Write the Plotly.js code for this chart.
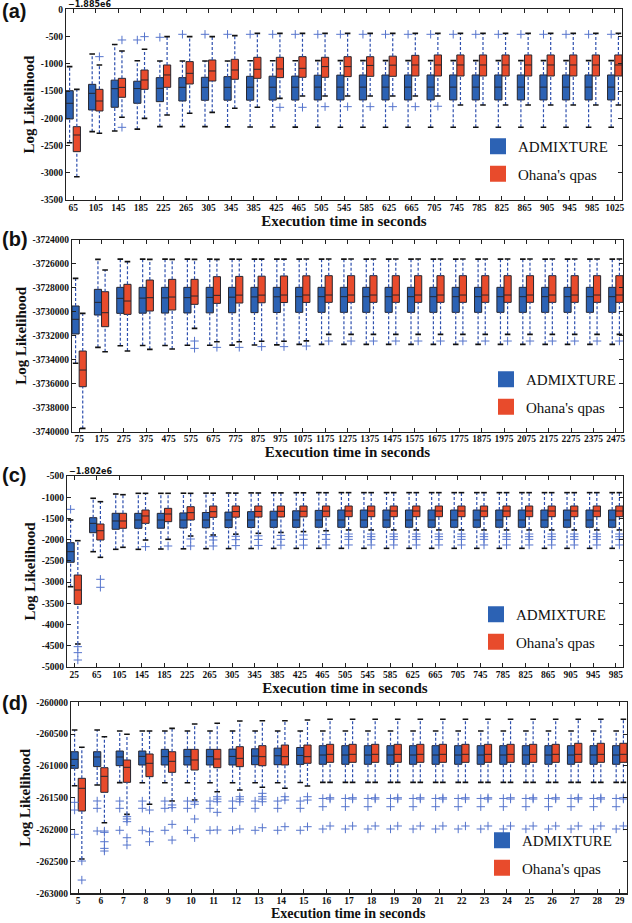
<!DOCTYPE html>
<html><head><meta charset="utf-8">
<script src="https://cdn.plot.ly/plotly-3.0.1.min.js"></script>
<style>html,body{margin:0;padding:0;background:#fff}#chart{width:632px;height:923px}</style>
</head><body><div id="chart"></div>
<script>
// ================= DATA =================
// Panel (a): execution time categories (seconds), values offset by -1.885e6
const timesA = [65,105,145,185,225,265,305,345,385,425,465,505,545,585,625,665,705,745,785,825,865,905,945,985,1025];
const yTicksA = [0,-500,-1000,-1500,-2000,-2500,-3000,-3500];
const admA_q3  = [-1494,-1377,-1300,-1320,-1254,-1254,-1248,-1236,-1230,-1228,-1226,-1210,-1208,-1206,-1206,-1205,-1205,-1205,-1205,-1205,-1205,-1205,-1205,-1205,-1205];
const admA_med = [-1725,-1542,-1457,-1455,-1450,-1432,-1432,-1432,-1430,-1430,-1430,-1428,-1428,-1428,-1428,-1428,-1428,-1428,-1428,-1428,-1428,-1428,-1428,-1428,-1428];
const admA_q1  = [-2013,-1848,-1798,-1725,-1695,-1683,-1670,-1668,-1668,-1666,-1666,-1664,-1664,-1664,-1664,-1664,-1664,-1664,-1664,-1664,-1664,-1664,-1664,-1664,-1664];
const admA_hi  = [-1053,-820,-645,-943,-948,-948,-948,-948,-945,-945,-945,-942,-942,-942,-942,-942,-942,-942,-942,-942,-942,-942,-942,-942,-942];
const admA_lo  = [-2450,-2246,-2233,-2200,-2154,-2154,-2154,-2158,-2160,-2160,-2162,-2166,-2166,-2166,-2166,-2166,-2166,-2166,-2166,-2166,-2166,-2166,-2166,-2166,-2166];
const admA_out = [[],[],[],[-563],[-514],[-459],[-459],[-459],[-459],[-459],[-459],[-459],[-459],[-459],[-459],[-459],[-459],[-459],[-459],[-459],[-459],[-459],[-459],[-459],[-459]];
const qA_q3  = [-2154,-1469,-1267,-1114,-1022,-960,-930,-918,-881,-881,-869,-881,-870,-870,-860,-845,-838,-838,-838,-838,-838,-838,-838,-838,-838];
const qA_med = [-2307,-1683,-1433,-1297,-1205,-1175,-1132,-1114,-1101,-1095,-1083,-1052,-1052,-1030,-1025,-1022,-1022,-1022,-1022,-1022,-1022,-1022,-1022,-1022,-1022];
const qA_q1  = [-2613,-1866,-1615,-1469,-1432,-1371,-1316,-1285,-1267,-1254,-1248,-1248,-1236,-1230,-1230,-1224,-1224,-1224,-1224,-1224,-1224,-1224,-1224,-1224,-1224];
const qA_hi  = [-1469,-1022,-765,-734,-502,-502,-502,-483,-441,-441,-441,-441,-441,-441,-441,-441,-441,-441,-441,-441,-441,-441,-441,-441,-441];
const qA_lo  = [-3072,-2276,-1982,-2001,-1940,-1909,-1891,-1817,-1799,-1634,-1591,-1591,-1591,-1591,-1591,-1591,-1591,-1756,-1756,-1756,-1756,-1756,-1756,-1756,-1756];
const qA_out = [[],[-869],[-563,-2166],[-502],[],[],[],[],[],[-1799],[-1799],[-1787],[-1787],[-1787],[-1787],[-1787],[-1780],[],[],[],[],[],[],[],[]];

// Panel (b)
const timesB = [75,175,275,375,475,575,675,775,875,975,1075,1175,1275,1375,1475,1575,1675,1775,1875,1975,2075,2175,2275,2375,2475];
const yTicksB = [-3724000,-3726000,-3728000,-3730000,-3732000,-3734000,-3736000,-3738000,-3740000];
const admB_q3  = [-3729508,-3728119,-3727952,-3727952,-3727952,-3727952,-3727952,-3727952,-3727952,-3727952,-3727952,-3727952,-3727952,-3727952,-3727952,-3727952,-3727952,-3727952,-3727952,-3727952,-3727952,-3727952,-3727952,-3727952,-3727952];
const admB_med = [-3730620,-3729204,-3728870,-3728850,-3728830,-3728810,-3728790,-3728770,-3728750,-3728740,-3728731,-3728731,-3728731,-3728731,-3728731,-3728731,-3728731,-3728731,-3728731,-3728731,-3728731,-3728731,-3728731,-3728731,-3728731];
const admB_q1  = [-3731845,-3730262,-3730123,-3730110,-3730100,-3730090,-3730080,-3730070,-3730060,-3730050,-3730039,-3730039,-3730039,-3730039,-3730039,-3730039,-3730039,-3730039,-3730039,-3730039,-3730039,-3730039,-3730039,-3730039,-3730039];
const admB_hi  = [-3727200,-3725614,-3725600,-3725600,-3725600,-3725600,-3725600,-3725600,-3725600,-3725600,-3725600,-3725600,-3725600,-3725600,-3725600,-3725600,-3725600,-3725600,-3725600,-3725600,-3725600,-3725600,-3725600,-3725600,-3725600];
const admB_lo  = [-3734290,-3732961,-3732822,-3732810,-3732800,-3732790,-3732780,-3732770,-3732760,-3732750,-3732711,-3732711,-3732711,-3732711,-3732711,-3732711,-3732711,-3732711,-3732711,-3732711,-3732711,-3732711,-3732711,-3732711,-3732711];
const admB_out = [[],[],[],[],[],[],[],[],[],[],[],[],[],[],[],[],[],[],[],[],[],[],[],[],[]];
const qB_q3  = [-3733267,-3728314,-3727701,-3727340,-3727284,-3727284,-3727061,-3727040,-3727020,-3727000,-3726990,-3726978,-3726978,-3726978,-3726978,-3726978,-3726978,-3726978,-3726978,-3726978,-3726978,-3726978,-3726978,-3726978,-3726978];
const qB_med = [-3734854,-3730067,-3729093,-3728815,-3728759,-3728676,-3728620,-3728600,-3728600,-3728592,-3728592,-3728592,-3728592,-3728592,-3728592,-3728592,-3728592,-3728592,-3728592,-3728592,-3728592,-3728592,-3728592,-3728592,-3728592];
const qB_q1  = [-3736245,-3731236,-3730206,-3729928,-3729844,-3729371,-3729288,-3729260,-3729240,-3729220,-3729210,-3729204,-3729204,-3729204,-3729204,-3729204,-3729204,-3729204,-3729204,-3729204,-3729204,-3729204,-3729204,-3729204,-3729204];
const qB_hi  = [-3730123,-3726505,-3725809,-3725614,-3725614,-3725614,-3725614,-3725610,-3725600,-3725600,-3725590,-3725586,-3725586,-3725586,-3725586,-3725586,-3725586,-3725586,-3725586,-3725586,-3725586,-3725586,-3725586,-3725586,-3725586];
const qB_lo  = [-3739724,-3733323,-3733267,-3733128,-3733100,-3731375,-3732488,-3732488,-3732450,-3732450,-3732420,-3731876,-3731876,-3731876,-3731876,-3731876,-3731876,-3731876,-3731876,-3731876,-3731876,-3731876,-3731876,-3731876,-3731876];
const qB_out = [[],[],[],[],[],[-3732432,-3733044],[-3732961],[-3732961],[-3732900],[-3732900],[-3732850],[-3732432],[-3732432],[-3732432],[-3732432],[-3732432],[-3732432],[-3732432],[-3732432],[-3732432],[-3732432],[-3732432],[-3732432],[-3732432],[-3732432]];

// Panel (c): values offset by -1.802e6
const timesC = [25,65,105,145,185,225,265,305,345,385,425,465,505,545,585,625,665,705,745,785,825,865,905,945,985];
const yTicksC = [-500,-1000,-1500,-2000,-2500,-3000,-3500,-4000,-4500,-5000];
const admC_q3  = [-2071,-1482,-1379,-1380,-1380,-1370,-1360,-1350,-1340,-1330,-1320,-1310,-1301,-1301,-1301,-1301,-1301,-1301,-1301,-1301,-1301,-1301,-1301,-1301,-1301];
const admC_med = [-2283,-1615,-1560,-1537,-1537,-1537,-1537,-1537,-1537,-1537,-1537,-1537,-1537,-1537,-1537,-1537,-1537,-1537,-1537,-1537,-1537,-1537,-1537,-1537,-1537];
const admC_q1  = [-2533,-1836,-1756,-1733,-1730,-1725,-1720,-1715,-1712,-1710,-1710,-1709,-1709,-1709,-1709,-1709,-1709,-1709,-1709,-1709,-1709,-1709,-1709,-1709,-1709];
const admC_hi  = [-1537,-1025,-924,-908,-908,-905,-903,-900,-898,-896,-894,-892,-892,-892,-892,-892,-892,-892,-892,-892,-892,-892,-892,-892,-892];
const admC_lo  = [-3108,-2283,-2227,-2228,-2220,-2216,-2212,-2210,-2208,-2206,-2205,-2204,-2204,-2204,-2204,-2204,-2204,-2204,-2204,-2204,-2204,-2204,-2204,-2204,-2204];
const admC_out = [[-1285],[],[],[],[],[],[],[],[],[],[],[],[],[],[],[],[],[],[],[],[],[],[],[],[]];
const qC_q3  = [-2833,-1631,-1379,-1301,-1262,-1223,-1207,-1207,-1207,-1207,-1207,-1207,-1207,-1207,-1207,-1207,-1207,-1207,-1207,-1207,-1207,-1207,-1207,-1207,-1207];
const qC_med = [-3186,-1789,-1560,-1442,-1395,-1364,-1341,-1338,-1335,-1332,-1330,-1328,-1325,-1325,-1325,-1325,-1325,-1325,-1325,-1325,-1325,-1325,-1325,-1325,-1325];
const qC_q1  = [-3524,-2008,-1732,-1615,-1576,-1537,-1474,-1470,-1467,-1465,-1462,-1460,-1459,-1459,-1459,-1459,-1459,-1459,-1459,-1459,-1459,-1459,-1459,-1459,-1459];
const qC_hi  = [-2024,-1105,-940,-908,-908,-908,-905,-903,-900,-898,-896,-894,-892,-892,-892,-892,-892,-892,-892,-892,-892,-892,-892,-892,-892];
const qC_lo  = [-4458,-2416,-2180,-2008,-1992,-1914,-1890,-1870,-1850,-1830,-1810,-1790,-1772,-1772,-1772,-1772,-1772,-1772,-1772,-1772,-1772,-1772,-1772,-1772,-1772];
const qC_out = [[-4521,-4662,-4835],[-2934,-3122],[],[-2165],[-2149],[-1984,-2149],[-1929,-2008,-2149],[-1920,-2000,-2140],[-1910,-1995,-2135],[-1900,-1992,-2130],[-1890,-1992,-2128],[-1880,-1992,-2125],[-1867,-1929,-1992,-2125],[-1867,-1929,-1992,-2125],[-1867,-1929,-1992,-2125],[-1867,-1929,-1992,-2125],[-1867,-1929,-1992,-2125],[-1867,-1929,-1992,-2125],[-1867,-1929,-1992,-2125],[-1867,-1929,-1992,-2125],[-1867,-1929,-1992,-2125],[-1867,-1929,-1992,-2125],[-1867,-1929,-1992,-2125],[-1867,-1929,-1992,-2125],[-1867,-1929,-1992,-2125]];

// Panel (d)
const timesD = [5,6,7,8,9,10,11,12,13,14,15,16,17,18,19,20,21,22,23,24,25,26,27,28,29];
const yTicksD = [-260000,-260500,-261000,-261500,-262000,-262500,-263000];
const admD_q3  = [-260776,-260776,-260765,-260765,-260739,-260739,-260739,-260735,-260730,-260720,-260710,-260681,-260681,-260681,-260681,-260681,-260681,-260681,-260681,-260681,-260681,-260681,-260681,-260681,-260681];
const admD_med = [-260896,-260859,-260859,-260849,-260854,-260854,-260854,-260850,-260845,-260840,-260835,-260828,-260828,-260828,-260828,-260828,-260828,-260828,-260828,-260828,-260828,-260828,-260828,-260828,-260828];
const admD_q1  = [-261037,-261010,-260995,-260985,-260985,-260985,-260985,-260985,-260980,-260980,-260975,-260974,-260974,-260974,-260974,-260974,-260974,-260974,-260974,-260974,-260974,-260974,-260974,-260974,-260974];
const admD_hi  = [-260435,-260435,-260450,-260450,-260450,-260450,-260450,-260450,-260450,-260450,-260450,-260450,-260450,-260450,-260450,-260450,-260450,-260450,-260450,-260450,-260450,-260450,-260450,-260450,-260450];
const admD_lo  = [-261310,-261300,-261262,-261263,-261263,-261263,-261263,-261263,-261263,-261263,-261260,-261257,-261257,-261257,-261257,-261257,-261257,-261257,-261257,-261257,-261257,-261257,-261257,-261257,-261257];
const admD_out = [[-261571,-261692,-262074],[-261550,-261665,-262022],[-261551,-261665,-262010],[-261551,-261665,-262010],[-261551,-261665,-262010],[-261551,-261665,-262010],[-261551,-261665,-262010],[-261551,-261665,-262010],[-261551,-261665,-262010],[-261551,-261665,-262010],[-261551,-261665,-262010],[-261510,-261640,-261990],[-261510,-261640,-261990],[-261510,-261640,-261990],[-261510,-261640,-261990],[-261510,-261640,-261990],[-261510,-261640,-261990],[-261510,-261640,-261990],[-261510,-261640,-261990],[-261510,-261640,-261990],[-261510,-261640,-261990],[-261510,-261640,-261990],[-261510,-261640,-261990],[-261510,-261640,-261990],[-261510,-261640,-261990]];
const qD_q3  = [-261194,-261027,-260906,-260812,-260776,-260739,-260739,-260697,-260681,-260671,-260671,-260660,-260660,-260660,-260660,-260660,-260660,-260660,-260660,-260660,-260660,-260660,-260644,-260644,-260644];
const qD_med = [-261351,-261163,-261021,-260958,-260927,-260906,-260891,-260880,-260854,-260854,-260854,-260817,-260817,-260817,-260817,-260817,-260817,-260817,-260817,-260817,-260817,-260817,-260817,-260817,-260817];
const qD_q1  = [-261708,-261414,-261257,-261168,-261100,-261064,-261027,-261011,-260996,-260985,-260958,-260943,-260943,-260943,-260943,-260943,-260943,-260943,-260943,-260943,-260943,-260943,-260943,-260943,-260943];
const qD_hi  = [-260707,-260540,-260503,-260451,-260409,-260341,-260330,-260293,-260289,-260289,-260277,-260267,-260267,-260267,-260267,-260267,-260267,-260267,-260267,-260267,-260267,-260267,-260267,-260267,-260267];
const qD_lo  = [-262462,-261891,-261760,-261602,-261550,-261535,-261404,-261378,-261335,-261351,-261315,-261257,-261257,-261257,-261257,-261257,-261257,-261257,-261257,-261257,-261257,-261257,-261257,-261257,-261257];
const qD_out = [[-262493,-262792],[-262022,-262043,-262190,-262294,-262336],[-261796,-261833,-261875,-262127,-262242],[-261692,-262033,-262190],[-261613,-261655,-261917,-262164],[-261562,-261602,-261833,-262127],[-261483,-261520,-261562,-261728,-262006],[-261483,-261520,-261562,-261990],[-261430,-261483,-261520,-261562,-261970],[-261483,-261535,-261954],[-261483,-261535,-261954],[-261499,-261520,-261943],[-261499,-261520,-261943],[-261499,-261520,-261943],[-261499,-261520,-261943],[-261499,-261520,-261943],[-261499,-261520,-261943],[-261499,-261520,-261943],[-261499,-261520,-261943],[-261499,-261520,-261943],[-261499,-261520,-261943],[-261499,-261520,-261943],[-261499,-261520,-261943],[-261499,-261520,-261943],[-261499,-261520,-261943]];

const seriesNames = ['ADMIXTURE', "Ohana's qpas"];
const xTitle = 'Execution time in seconds';
const yTitle = 'Log Likelihood';

// ================= STYLE / LAYOUT =================
const W = 632, H = 923;
const BLUE = '#2c62b4', RED = '#e84b2c', EDGE = '#26262f', WHISK = '#2d4fae', OUTC = '#5574cc';
const px = v => v / W, py = v => 1 - v / H;
const serif = 'Liberation Serif';

const traces = [];
function addSeries(ax, pos, q1, med, q3, lo, hi, out, fill) {
  traces.push({type:'box', xaxis:'x'+ax, yaxis:'y'+ax, x:pos, q1:q1, median:med, q3:q3,
    lowerfence:q1, upperfence:q3, boxpoints:false, whiskerwidth:0, width:pos.w,
    fillcolor:fill, line:{color:EDGE, width:1}, showlegend:false, hoverinfo:'skip'});
  const wx = [], wy = [];
  pos.forEach((p, i) => { wx.push(p, p, null, p, p, null); wy.push(lo[i], q1[i], null, q3[i], hi[i], null); });
  traces.push({type:'scatter', mode:'lines', xaxis:'x'+ax, yaxis:'y'+ax, x:wx, y:wy,
    line:{color:WHISK, width:1.2, dash:'3px,2px'}, showlegend:false, hoverinfo:'skip'});
  traces.push({type:'scatter', mode:'markers', xaxis:'x'+ax, yaxis:'y'+ax, x:pos.concat(pos), y:lo.concat(hi),
    marker:{symbol:'line-ew', size:4, color:'#111', line:{width:1.6, color:'#111'}}, showlegend:false, hoverinfo:'skip'});
  const ox = [], oy = [];
  out.forEach((arr, i) => arr.forEach(v => { ox.push(pos[i]); oy.push(v); }));
  traces.push({type:'scatter', mode:'markers', xaxis:'x'+ax, yaxis:'y'+ax, x:ox, y:oy,
    marker:{symbol:'cross-thin', size:6, color:OUTC, line:{width:1, color:OUTC}}, showlegend:false, hoverinfo:'skip'});
}

const panels = [
  {ax:'', times:timesA, yt:yTicksA, yr:[-3500,0], x0:66, x1:622, y0:9.3, y1:200,
   adm:[admA_q1,admA_med,admA_q3,admA_lo,admA_hi,admA_out], q:[qA_q1,qA_med,qA_q3,qA_lo,qA_hi,qA_out],
   letter:'(a)', ly:11, offset:'\u22121.885e6', leg:[478,130], xt:null},
  {ax:'2', times:timesB, yt:yTicksB, yr:[-3740000,-3724000], x0:72, x1:623, y0:240, y1:431.7,
   adm:[admB_q1,admB_med,admB_q3,admB_lo,admB_hi,admB_out], q:[qB_q1,qB_med,qB_q3,qB_lo,qB_hi,qB_out],
   letter:'(b)', ly:239, offset:null, leg:[486,363], xt:null},
  {ax:'3', times:timesC, yt:yTicksC, yr:[-5000,-500], x0:67, x1:623, y0:476, y1:667,
   adm:[admC_q1,admC_med,admC_q3,admC_lo,admC_hi,admC_out], q:[qC_q1,qC_med,qC_q3,qC_lo,qC_hi,qC_out],
   letter:'(c)', ly:475, offset:'\u22121.802e6', leg:[476,598], xt:null},
  {ax:'4', times:timesD, yt:yTicksD, yr:[-263000,-260000], x0:71, x1:627, y0:702.3, y1:893.3,
   adm:[admD_q1,admD_med,admD_q3,admD_lo,admD_hi,admD_out], q:[qD_q1,qD_med,qD_q3,qD_lo,qD_hi,qD_out],
   letter:'(d)', ly:703, offset:null, leg:[482,824], xt:923}
];

const layout = {width:W, height:H, margin:{l:0,r:0,t:0,b:0}, paper_bgcolor:'#fff', plot_bgcolor:'#fff',
  font:{family:serif, color:'#111'}, showlegend:true, annotations:[]};
const tickFont = {family:serif, size:9.5, color:'#111', weight:'bold'};
const titleFont = {family:serif, size:15, color:'#111', weight:'bold'};

panels.forEach((p, k) => {
  const step = p.times[1] - p.times[0];
  const posA = p.times.map(t => t - 0.16 * step); posA.w = 0.32 * step;
  const posQ = p.times.map(t => t + 0.16 * step); posQ.w = 0.32 * step;
  addSeries(p.ax, posA, ...p.adm, BLUE);
  addSeries(p.ax, posQ, ...p.q, RED);
  const lg = k === 0 ? 'legend' : 'legend' + (k + 1);
  [[seriesNames[0], BLUE], [seriesNames[1], RED]].forEach(([nm, c], j) => {
    traces.push({type:'scatter', mode:'markers', xaxis:'x'+p.ax, yaxis:'y'+p.ax, x:[null], y:[null], name:nm,
      legend:lg, legendgroup:lg + 'g' + j, showlegend:true,
      marker:{symbol:'square', size:16, color:c, line:{width:0}}});
  });
  layout[lg] = {x:px(p.leg[0]), y:py(p.leg[1]), xanchor:'left', yanchor:'top', bgcolor:'rgba(0,0,0,0)',
    font:{family:serif, size:15, color:'#111'}, tracegroupgap:5, traceorder:'grouped'};
  const xa = {domain:[px(p.x0), px(p.x1)], anchor:'y'+p.ax,
    range:[p.times[0] - 0.32*step, p.times[p.times.length-1] + 0.32*step],
    tickmode:'array', tickvals:p.times, ticktext:p.times.map(String),
    ticks:'inside', ticklen:4, tickwidth:1, tickcolor:'#222', showline:true, linecolor:'#222', linewidth:1.2,
    mirror:'ticks', showgrid:false, zeroline:false, tickfont:tickFont, ticklabelstandoff:-2};
  if (p.xt === null) {
    xa.title = {text:xTitle, font:titleFont, standoff:2};
  } else {
    layout.annotations.push({xref:'paper', yref:'paper', x:px((p.x0 + p.x1) / 2), y:py(p.xt), xanchor:'center', yanchor:'bottom',
      text:xTitle, showarrow:false, font:{family:serif, size:14, color:'#111', weight:'bold'}});
  }
  layout['xaxis'+p.ax] = xa;
  layout['yaxis'+p.ax] = {domain:[py(p.y1), py(p.y0)], anchor:'x'+p.ax, range:p.yr,
    tickmode:'array', tickvals:p.yt, ticktext:p.yt.map(String),
    ticks:'inside', ticklen:4, tickwidth:1, tickcolor:'#222', showline:true, linecolor:'#222', linewidth:1.2,
    mirror:'ticks', showgrid:false, zeroline:false, tickfont:tickFont,
    title:{text:yTitle, font:titleFont, standoff:2}};
  layout.annotations.push({xref:'paper', yref:'paper', x:0, y:py(p.ly), xanchor:'left', yanchor:'middle',
    text:p.letter, showarrow:false, font:{family:'Liberation Sans', size:20, color:'#111', weight:'bold'}});
  if (p.offset) layout.annotations.push({xref:'paper', yref:'paper', x:px(p.x0), y:py(p.y0 - 5), xanchor:'left', yanchor:'middle',
    text:p.offset, showarrow:false, font:{family:'DejaVu Sans', size:8, color:'#111', weight:'bold'}});
});

Plotly.newPlot('chart', traces, layout, {displayModeBar:false, staticPlot:true});
</script>
</body></html>
